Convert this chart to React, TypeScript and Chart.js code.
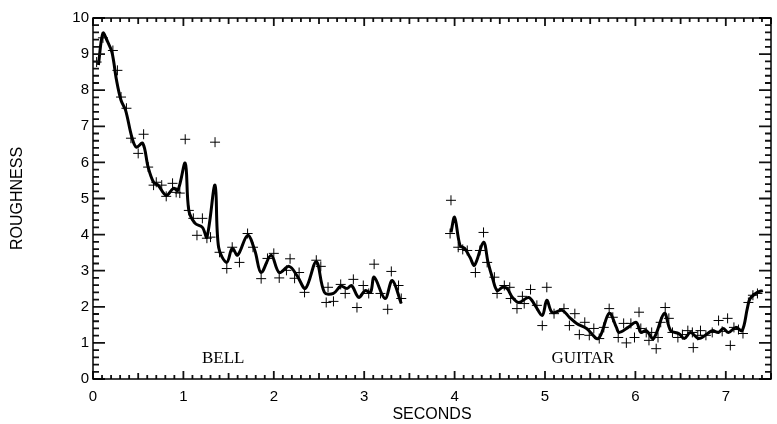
import React, { useEffect, useRef } from "react";
import { Chart, registerables } from "chart.js";

Chart.register(...registerables);

// Smoothed roughness curves (seconds, roughness)
const bellCurveX = [0.06, 0.11, 0.16, 0.21, 0.26, 0.31, 0.36, 0.43, 0.48, 0.55, 0.61, 0.67, 0.72, 0.81, 0.89, 0.94, 1.02, 1.06, 1.13, 1.21, 1.26, 1.35, 1.39, 1.48, 1.54, 1.60, 1.71, 1.79, 1.86, 1.97, 2.06, 2.17, 2.26, 2.35, 2.47, 2.56, 2.66, 2.74, 2.81, 2.86, 2.94, 3.01, 3.07, 3.11, 3.23, 3.31, 3.41];
const bellCurveY = [8.7, 9.58, 9.35, 9.05, 8.28, 7.72, 7.45, 6.70, 6.42, 6.53, 5.87, 5.45, 5.37, 5.09, 5.28, 5.23, 5.98, 4.67, 4.31, 4.20, 3.93, 5.37, 3.64, 3.23, 3.62, 3.43, 3.98, 3.56, 2.95, 3.43, 2.95, 3.12, 2.85, 2.51, 3.25, 2.40, 2.37, 2.57, 2.51, 2.59, 2.26, 2.45, 2.40, 2.82, 2.23, 2.73, 2.09];

const guitarCurveX = [3.96, 4.00, 4.06, 4.11, 4.17, 4.22, 4.32, 4.37, 4.42, 4.47, 4.53, 4.58, 4.64, 4.71, 4.82, 4.89, 4.97, 5.02, 5.08, 5.19, 5.27, 5.35, 5.46, 5.59, 5.71, 5.79, 5.82, 5.92, 6.01, 6.06, 6.12, 6.20, 6.32, 6.39, 6.48, 6.54, 6.61, 6.70, 6.80, 6.85, 6.92, 6.97, 7.03, 7.11, 7.18, 7.24, 7.27, 7.35, 7.41];
const guitarCurveY = [4.06, 4.48, 3.70, 3.62, 3.37, 3.15, 3.79, 3.23, 2.79, 2.45, 2.54, 2.51, 2.26, 2.12, 2.26, 2.04, 1.76, 2.18, 1.84, 1.90, 1.71, 1.54, 1.40, 1.12, 1.82, 1.43, 1.29, 1.43, 1.57, 1.29, 1.34, 1.12, 1.82, 1.34, 1.26, 1.12, 1.29, 1.12, 1.26, 1.34, 1.29, 1.40, 1.29, 1.43, 1.34, 1.98, 2.23, 2.40, 2.45];

// Raw measurements ("+")
const bellPointsX = [0.04, 0.11, 0.22, 0.27, 0.31, 0.37, 0.42, 0.50, 0.56, 0.61, 0.67, 0.70, 0.76, 0.81, 0.88, 0.92, 0.96, 1.02, 1.06, 1.11, 1.15, 1.21, 1.26, 1.30, 1.35, 1.40, 1.48, 1.54, 1.62, 1.71, 1.77, 1.86, 1.93, 2.00, 2.06, 2.14, 2.18, 2.23, 2.28, 2.34, 2.47, 2.52, 2.58, 2.60, 2.66, 2.74, 2.79, 2.88, 2.92, 2.99, 3.05, 3.11, 3.18, 3.26, 3.30, 3.38, 3.41];
const bellPointsY = [8.78, 9.45, 9.1, 8.55, 7.81, 7.5, 6.67, 6.25, 6.78, 5.87, 5.37, 5.45, 5.37, 5.06, 5.42, 5.17, 5.15, 6.64, 4.67, 4.45, 3.98, 4.45, 3.9, 3.93, 6.56, 3.51, 3.06, 3.65, 3.23, 4.03, 3.65, 2.78, 3.34, 3.48, 2.8, 3.01, 3.33, 2.79, 2.95, 2.40, 3.29, 3.12, 2.12, 2.54, 2.15, 2.62, 2.37, 2.76, 1.98, 2.59, 2.37, 3.18, 2.37, 1.93, 2.98, 2.59, 2.23];

const guitarPointsX = [3.95, 3.96, 4.04, 4.09, 4.14, 4.23, 4.28, 4.32, 4.36, 4.44, 4.47, 4.55, 4.61, 4.62, 4.69, 4.75, 4.77, 4.84, 4.91, 4.97, 5.02, 5.10, 5.21, 5.27, 5.33, 5.38, 5.44, 5.49, 5.54, 5.60, 5.65, 5.71, 5.75, 5.81, 5.87, 5.90, 5.95, 5.99, 6.04, 6.06, 6.12, 6.15, 6.18, 6.23, 6.25, 6.28, 6.33, 6.37, 6.41, 6.47, 6.52, 6.58, 6.63, 6.64, 6.69, 6.72, 6.78, 6.85, 6.92, 6.96, 7.02, 7.05, 7.09, 7.14, 7.19, 7.25, 7.30, 7.35];
const guitarPointsY = [4.03, 4.95, 3.65, 3.59, 3.56, 2.95, 3.56, 4.06, 3.23, 2.82, 2.37, 2.59, 2.54, 2.23, 1.95, 2.29, 2.09, 2.48, 2.04, 1.48, 2.54, 1.81, 1.95, 1.48, 1.81, 1.23, 1.57, 1.21, 1.40, 1.12, 1.43, 1.95, 1.71, 1.15, 1.54, 1.0, 1.54, 1.15, 1.85, 1.40, 1.29, 1.07, 1.29, 0.84, 1.15, 1.57, 1.98, 1.68, 1.29, 1.15, 1.23, 1.34, 1.29, 0.87, 1.21, 1.34, 1.21, 1.29, 1.62, 1.32, 1.68, 0.93, 1.43, 1.37, 1.26, 2.12, 2.32, 2.37];

// Annotation labels
const labelTexts = ["BELL", "GUITAR"];
const labelX = [1.44, 5.42];
const labelY = [0.58, 0.58];

const xMin = 0, xMax = 7.5, yMin = 0, yMax = 10;

const zip = (xs: number[], ys: number[]) => xs.map((x, i) => ({ x, y: ys[i] }));

const framePlugin = {
  id: "frameTicks",
  afterDraw(chart: any) {
    const ctx = chart.ctx;
    const a = chart.chartArea;
    const xs = chart.scales.x;
    const ys = chart.scales.y;
    ctx.save();
    ctx.strokeStyle = "#111";
    ctx.lineWidth = 1.8;
    for (let i = 0; i <= Math.round(xMax * 10); i++) {
      const px = xs.getPixelForValue(i / 10);
      const len = i % 10 === 0 ? 8 : i % 5 === 0 ? 6 : 4;
      ctx.beginPath();
      ctx.moveTo(px, a.bottom);
      ctx.lineTo(px, a.bottom - len);
      ctx.moveTo(px, a.top);
      ctx.lineTo(px, a.top + len);
      ctx.stroke();
    }
    for (let j = 0; j <= yMax * 5; j++) {
      const py = ys.getPixelForValue(j / 5);
      const len = j % 5 === 0 ? 12 : 6;
      ctx.beginPath();
      ctx.moveTo(a.left, py);
      ctx.lineTo(a.left + len, py);
      ctx.moveTo(a.right, py);
      ctx.lineTo(a.right - len, py);
      ctx.stroke();
    }
    ctx.lineWidth = 1.5;
    ctx.strokeStyle = "#000";
    ctx.strokeRect(a.left, a.top, a.right - a.left, a.bottom - a.top);
    ctx.fillStyle = "#000";
    ctx.font = '17px "Liberation Serif"';
    ctx.textAlign = "center";
    ctx.textBaseline = "middle";
    labelTexts.forEach((t, i) => {
      ctx.fillText(t, xs.getPixelForValue(labelX[i]), ys.getPixelForValue(labelY[i]));
    });
    ctx.restore();
  },
};

export default function App() {
  const ref = useRef<HTMLCanvasElement>(null);
  useEffect(() => {
    document.body.style.margin = "0";
    const lineDs = (xs: number[], ys: number[]) => ({
      data: zip(xs, ys),
      showLine: true,
      borderColor: "#000",
      borderWidth: 3,
      pointRadius: 0,
      tension: 0.35,
      fill: false,
    });
    const ptDs = (xs: number[], ys: number[]) => ({
      data: zip(xs, ys),
      showLine: false,
      pointStyle: "cross",
      pointRadius: 5,
      borderColor: "#000",
      borderWidth: 1,
      backgroundColor: "#000",
    });
    const chart = new Chart(ref.current!, {
      type: "scatter",
      data: {
        datasets: [
          lineDs(bellCurveX, bellCurveY),
          lineDs(guitarCurveX, guitarCurveY),
          ptDs(bellPointsX, bellPointsY),
          ptDs(guitarPointsX, guitarPointsY),
        ] as any,
      },
      options: {
        animation: false,
        responsive: false,
        maintainAspectRatio: false,
        layout: { padding: { left: 0, right: 2, top: 18, bottom: 0 } },
        plugins: { legend: { display: false }, tooltip: { enabled: false } },
        scales: {
          x: {
            type: "linear",
            min: xMin,
            max: xMax,
            grid: { display: false, drawTicks: false },
            border: { display: false },
            ticks: {
              stepSize: 1,
              includeBounds: false,
              color: "#000",
              padding: 9,
              font: { family: '"Liberation Sans"', size: 15 },
              callback: (v: any) => (Number.isInteger(v) ? String(v) : ""),
            },
            title: {
              display: true,
              text: "SECONDS",
              color: "#000",
              font: { family: '"Liberation Sans"', size: 16 },
              padding: { top: 0, bottom: 0 },
            },
            afterFit: (s: any) => { s.height = 45; },
          },
          y: {
            type: "linear",
            min: yMin,
            max: yMax,
            grid: { display: false, drawTicks: false },
            border: { display: false },
            ticks: {
              stepSize: 1,
              color: "#000",
              padding: 4,
              font: { family: '"Liberation Sans"', size: 15 },
            },
            title: {
              display: true,
              text: "ROUGHNESS",
              color: "#000",
              font: { family: '"Liberation Sans"', size: 16 },
              padding: { top: 8, bottom: 0 },
            },
            afterFit: (s: any) => { s.width = 93; },
          },
        },
      } as any,
      plugins: [framePlugin],
    });
    return () => chart.destroy();
  }, []);
  return (
    <div style={{ position: "absolute", left: 0, top: 0, width: 777, height: 424, background: "#fff" }}>
      <canvas ref={ref} width={777} height={424} style={{ width: 777, height: 424 }} />
    </div>
  );
}
